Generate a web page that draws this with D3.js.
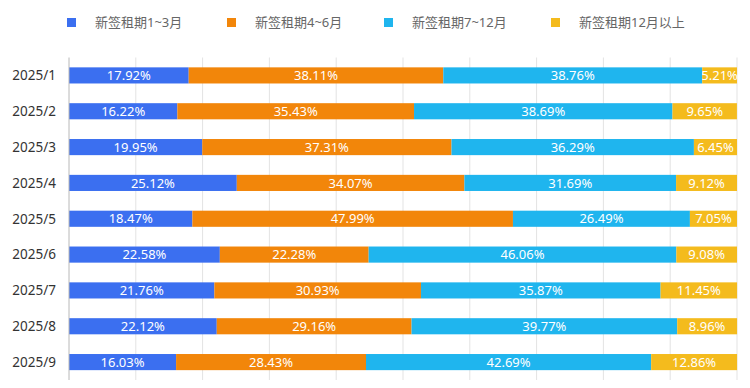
<!DOCTYPE html>
<html><head><meta charset="utf-8">
<script src="https://cdn.jsdelivr.net/npm/d3@7"></script>
<style>body{margin:0;background:#fff;}svg{display:block;font-family:"Noto Sans","Noto Sans CJK SC",sans-serif;}</style>
</head><body>
<svg id="c" width="750" height="388"></svg>
<script>
const categories = ["2025/1","2025/2","2025/3","2025/4","2025/5","2025/6","2025/7","2025/8","2025/9"];
const seriesNames = ["新签租期1~3月","新签租期4~6月","新签租期7~12月","新签租期12月以上"];
const s1 = [17.92,16.22,19.95,25.12,18.47,22.58,21.76,22.12,16.03];
const s2 = [38.11,35.43,37.31,34.07,47.99,22.28,30.93,29.16,28.43];
const s3 = [38.76,38.69,36.29,31.69,26.49,46.06,35.87,39.77,42.69];
const s4 = [5.21,9.65,6.45,9.12,7.05,9.08,11.45,8.96,12.86];
const colors = ["#3b6ff0","#f2860a","#1fb5ee","#f4bb1d"];
const xTicks = [0,10,20,30,40,50,60,70,80,90,100];

const svg = d3.select("#c");
const m = {left:69, right:737, top:57.5, bottom:380};
const x = d3.scaleLinear().domain([0,100]).range([m.left,m.right]);
const y = d3.scaleBand().domain(categories).range([m.top,m.bottom]).paddingInner(0.55).paddingOuter(0.275);

// gridlines
svg.append("g").selectAll("line").data(xTicks.slice(1)).join("line")
  .attr("x1",d=>x(d)).attr("x2",d=>x(d)).attr("y1",m.top).attr("y2",m.bottom)
  .attr("stroke","#e3e3e3").attr("stroke-width",1);

const allSeries = [s1,s2,s3,s4];
const rows = categories.map((c,i)=>{const o={cat:c}; allSeries.forEach((s,k)=>o["k"+k]=s[i]); return o;});
const stack = d3.stack().keys(["k0","k1","k2","k3"])(rows);

const g = svg.append("g");
stack.forEach((layer,k)=>{
  const lg = g.append("g");
  lg.selectAll("rect").data(layer).join("rect")
    .attr("x",d=>x(d[0])).attr("width",d=>x(d[1])-x(d[0]))
    .attr("y",d=>y(d.data.cat)).attr("height",y.bandwidth())
    .attr("fill",colors[k]);
});
stack.forEach((layer,k)=>{
  g.append("g").selectAll("text").data(layer).join("text")
    .attr("x",d=>(x(d[0])+x(d[1]))/2).attr("y",d=>y(d.data.cat)+y.bandwidth()/2)
    .attr("dy","0.36em").attr("text-anchor","middle")
    .attr("fill","#fff").attr("font-size",13)
    .text(d=>d.data["k"+k].toFixed(2)+"%");
});

// y axis
svg.append("line").attr("x1",m.left).attr("x2",m.left).attr("y1",m.top).attr("y2",m.bottom)
  .attr("stroke","#b8b8b8").attr("stroke-width",1);
svg.append("g").selectAll("text").data(categories).join("text")
  .attr("x",m.left-13).attr("y",d=>y(d)+y.bandwidth()/2).attr("dy","0.36em")
  .attr("text-anchor","end").attr("fill","#333").attr("font-size",13.5).text(d=>d);

// legend
const legX = [67,227,384,551];
const lg = svg.append("g");
seriesNames.forEach((n,i)=>{
  lg.append("rect").attr("x",legX[i]).attr("y",18).attr("width",9).attr("height",9).attr("fill",colors[i]);
  lg.append("text").attr("x",legX[i]+28).attr("y",22.5).attr("dy","0.36em")
    .attr("fill","#666").attr("font-size",13).text(n);
});
</script>
</body></html>
